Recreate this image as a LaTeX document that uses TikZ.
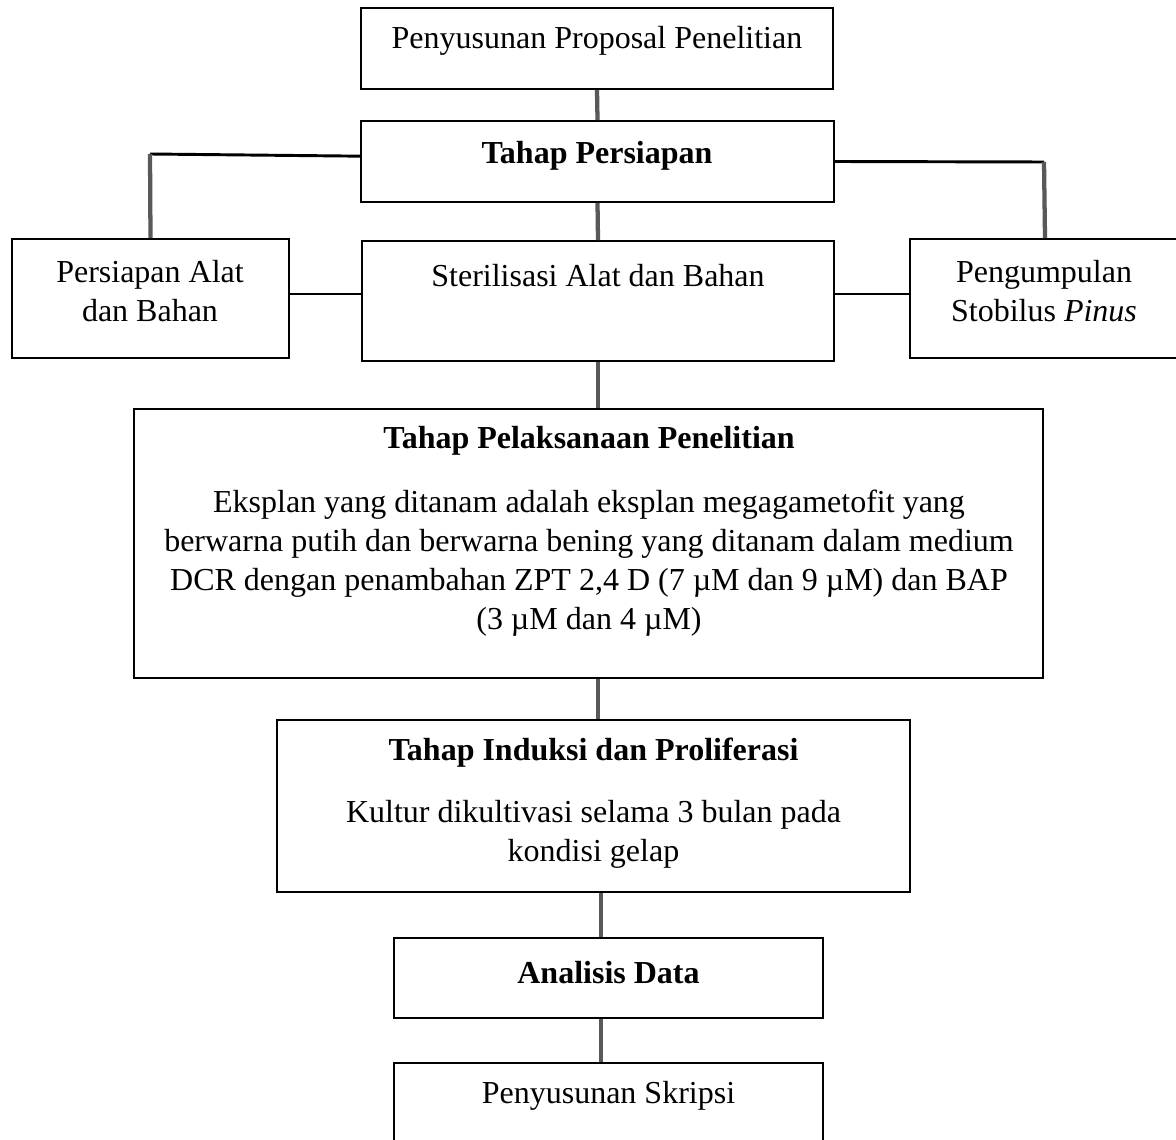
\documentclass[tikz,border=0pt]{standalone}
\usepackage{fontspec}
\setmainfont{Liberation Serif}
\definecolor{linkgray}{HTML}{595959}
\tikzset{
  box/.style={draw, line width=0.6pt, inner sep=0pt},
  txt/.style={align=center, inner sep=0pt, font=\fontsize{12}{14.6}\selectfont},
  link/.style={draw=linkgray, line width=1.6pt},
  branch/.style={draw=black, line width=1.1pt},
  side/.style={draw=black, line width=0.5pt}
}
\begin{document}
\begin{tikzpicture}[x=0.375pt,y=-0.375pt]
\useasboundingbox (0,0) rectangle (1176,1140);

% boxes
\node[box, minimum width=177pt, minimum height=30.4pt] (prop) at (597,48.5) {};
\node[box, minimum width=177.4pt, minimum height=30.4pt] (pers) at (597.5,161.5) {};
\node[box, minimum width=103.9pt, minimum height=44.6pt] (alat) at (150.5,298.5) {};
\node[box, minimum width=177pt, minimum height=45pt] (steri) at (598,301) {};
\node[box, minimum width=101.25pt, minimum height=44.6pt] (kumpul) at (1045,298.5) {};
\node[box, minimum width=340.9pt, minimum height=100.9pt] (pelak) at (588.5,543.5) {};
\node[box, minimum width=237.4pt, minimum height=64.5pt] (induksi) at (593.5,806) {};
\node[box, minimum width=160.9pt, minimum height=30pt] (analisis) at (608.5,978) {};
\node[box, minimum width=160.9pt, minimum height=36.4pt] (skripsi) at (608.5,1111.5) {};

% texts
\node[txt] (propt) at (597,41) {Penyusunan Proposal Penelitian};
\node[txt] (perst) at (597,156) {\textbf{Tahap Persiapan}};
\node[txt] (alatt) at (150,291) {Persiapan Alat\\dan Bahan};
\node[txt] (sterit) at (598,276) {Sterilisasi Alat dan Bahan};
\node[txt] (kumpult) at (1044,291) {Pengumpulan\\Stobilus \textit{Pinus}};
\node[txt] (pelakt) at (589,441) {\textbf{Tahap Pelaksanaan Penelitian}};
\node[txt] (pelakb) at (589,563) {Eksplan yang ditanam adalah eksplan megagametofit yang\\berwarna putih dan berwarna bening yang ditanam dalam medium\\DCR dengan penambahan ZPT 2,4 D (7 µM dan 9 µM) dan BAP\\(3 µM dan 4 µM)};
\node[txt] (induksit) at (593.5,753) {\textbf{Tahap Induksi dan Proliferasi}};
\node[txt] (induksib) at (593.5,834) {Kultur dikultivasi selama 3 bulan pada\\kondisi gelap};
\node[txt] (analisist) at (608.5,973) {\textbf{Analisis Data}};
\node[txt] (skripsit) at (608.5,1096) {Penyusunan Skripsi};

% main spine
\draw[link] (prop.south) -- (pers.north);
\draw[link] (pers.south) -- (steri.north);
\draw[link] (steri.south) -- (steri.south |- pelak.north);
\draw[link] (pelak.south -| steri.south) -- (induksi.north -| steri.south);
\draw[link] ([xshift=2.8pt]induksi.south) -- ([xshift=2.8pt]induksi.south |- analisis.north);
\draw[link] ([xshift=-2.8pt]analisis.south) -- ([xshift=-2.8pt]skripsi.north);

% side branches
\coordinate (lcorner) at (150,154);
\coordinate (rcorner) at (1044,162);
\draw[branch] ([yshift=2pt]pers.west) -- (lcorner);
\draw[link] (lcorner) -- (alat.north);
\draw[branch] (pers.east) -- (rcorner);
\draw[link] (rcorner) -- (kumpul.north);
\draw[side] ([yshift=1.7pt]alat.east) -- ([yshift=1.7pt]alat.east -| steri.west);
\draw[side] ([yshift=2.6pt]steri.east) -- ([yshift=2.6pt]steri.east -| kumpul.west);

\end{tikzpicture}
\end{document}
